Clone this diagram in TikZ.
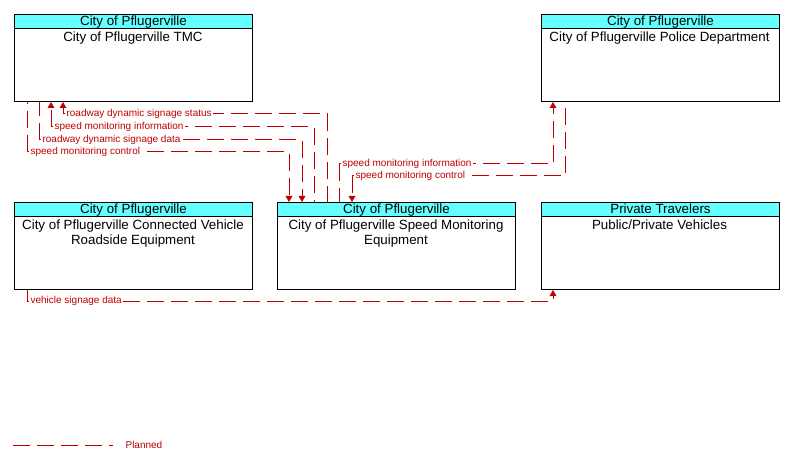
\documentclass[tikz,border=0pt]{standalone}
\usepackage{fontspec}
\setmainfont{Liberation Sans}
\usetikzlibrary{arrows.meta}
\definecolor{flowred}{RGB}{192,0,0}
\definecolor{headcyan}{RGB}{102,255,255}
\begin{document}
\begin{tikzpicture}[x=0.75pt, y=-0.75pt,
    sysbox/.style={draw, line width=0.75pt, minimum width=178.5pt, minimum height=65.25pt, anchor=north west, inner sep=0pt},
    head/.style={draw, fill=headcyan, line width=0.75pt, minimum width=178.5pt, minimum height=10.5pt, text height=8pt, text depth=2.5pt, anchor=north, inner sep=0pt, font=\fontsize{10}{12}\selectfont},
    body/.style={anchor=north, align=center, inner sep=0pt, font=\fontsize{10}{11.25}\selectfont},
    flow/.style={flowred, line width=0.75pt, dash pattern=on 13pt off 5pt},
    tip/.style={-{Triangle[length=4.5pt,width=5pt]}},
    lbl/.style={anchor=west, fill=white, text=flowred, inner sep=1pt, font=\fontsize{7.5}{8}\selectfont}]
    \useasboundingbox (0,0) rectangle (788,463);

    % systems
    \node[sysbox] (tmc) at (14,14) {};
    \node[head] (tmch) at (tmc.north) {City of Pflugerville};
    \node[body] at (133,31.5) {City of Pflugerville TMC};

    \node[sysbox] (police) at (541,14) {};
    \node[head] (policeh) at (police.north) {City of Pflugerville};
    \node[body] at (659.5,31.5) {City of Pflugerville Police Department};

    \node[sysbox] (rse) at (14,202) {};
    \node[head] (rseh) at (rse.north) {City of Pflugerville};
    \node[body] at (133,219.5) {City of Pflugerville Connected Vehicle\\Roadside Equipment};

    \node[sysbox] (sme) at (277,202) {};
    \node[head] (smeh) at (sme.north) {City of Pflugerville};
    \node[body] at (396,219.5) {City of Pflugerville Speed Monitoring\\Equipment};

    \node[sysbox] (veh) at (541,202) {};
    \node[head] (vehh) at (veh.north) {Private Travelers};
    \node[body] at (659.5,219.5) {Public/Private Vehicles};

    % TMC <-> speed monitoring equipment
    \coordinate (c1) at (63,114);
    \draw[flow] (c1) -| (327,0 |- sme.north);
    \draw[flow,tip] (c1) -- (63,0 |- tmc.south);
    \node[lbl] (f1) at (65,114) {roadway dynamic signage status};
    \coordinate (c2) at (51,127);
    \draw[flow] (c2) -| (314,0 |- sme.north);
    \draw[flow,tip] (c2) -- (51,0 |- tmc.south);
    \node[lbl] (f2) at (53,127) {speed monitoring information};
    \coordinate (c3) at (39,140);
    \draw[flow] (c3) -- (39,0 |- tmc.south);
    \draw[flow,tip] (c3) -| (302,0 |- sme.north);
    \node[lbl] (f3) at (41,140) {roadway dynamic signage data};
    \coordinate (c4) at (27,152);
    \draw[flow] (c4) -- (27,0 |- tmc.south);
    \draw[flow,tip] (c4) -| (289,0 |- sme.north);
    \node[lbl] (f4) at (29,152) {speed monitoring control};

    % police <-> speed monitoring equipment
    \coordinate (c5) at (339,164);
    \draw[flow] (c5) -- (339,0 |- sme.north);
    \draw[flow,tip] (c5) -| (553,0 |- police.south);
    \node[lbl] (f5) at (341,164) {speed monitoring information};
    \coordinate (c6) at (352,176);
    \draw[flow] (c6) -| (565,0 |- police.south);
    \draw[flow,tip] (c6) -- (352,0 |- sme.north);
    \node[lbl] (f6) at (354,176) {speed monitoring control};

    % roadside equipment -> vehicles
    \coordinate (c7) at (27,301);
    \draw[flow] (c7) -- (27,0 |- rse.south);
    \draw[flow,tip] (c7) -| (553,0 |- veh.south);
    \node[lbl] (f7) at (29,301) {vehicle signage data};

    % legend
    \coordinate (lgA) at (13,445);
    \coordinate (lgB) at (113,445);
    \draw[flow] (lgA) -- (lgB);
    \node[lbl] (lgtext) at (124,445) {Planned};
\end{tikzpicture}
\end{document}
